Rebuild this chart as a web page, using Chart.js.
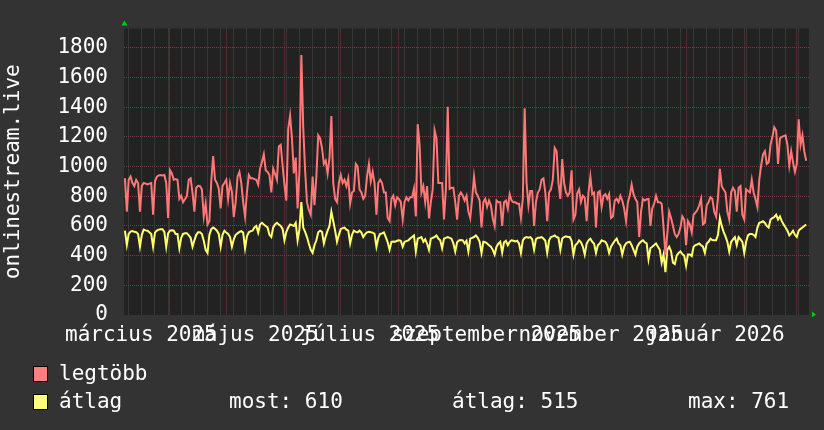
<!DOCTYPE html>
<html><head><meta charset="utf-8">
<script src="https://cdn.jsdelivr.net/npm/chart.js@4"></script>
<style>
html,body{margin:0;padding:0;background:#333333;}
#wrap{position:relative;width:824px;height:430px;overflow:hidden;}
#c{position:absolute;left:0;top:0;}
.lg{position:absolute;font-family:'DejaVu Sans Mono',monospace;font-size:21px;line-height:21px;color:#ffffff;white-space:pre;}
.box{position:absolute;width:13px;height:14px;border:1px solid #000;}
</style></head><body>
<div id="wrap">
<canvas id="c" width="824" height="430"></canvas>
<div class="box" style="left:33px;top:366px;background:#ff7f7f"></div>
<div class="lg" style="left:59px;top:363px">legtöbb</div>
<div class="box" style="left:33px;top:394px;background:#ffff7f"></div>
<div class="lg" style="left:59px;top:391px">átlag</div>
<div class="lg" style="left:229px;top:391px">most: 610</div>
<div class="lg" style="left:452px;top:391px">átlag: 515</div>
<div class="lg" style="left:688px;top:391px">max: 761</div>
</div>
<script>
// Day index 0 = 2025-03-08 ; one value per day
const legtobb = [
921,696,910,932,889,868,910,889,696,870,889,885,880,885,889,675,900,932,940,943,
940,943,889,653,975,953,911,915,911,782,803,760,780,800,911,921,825,696,857,870,
868,846,664,750,610,632,900,1071,911,889,850,718,870,889,911,782,889,830,660,760,
932,964,889,760,664,825,943,921,921,915,911,878,985,1030,1082,975,964,943,825,985,
950,911,1135,1146,1007,878,771,1253,1343,1189,953,1060,718,975,1751,1264,975,760,707,675,
932,739,932,1210,1189,1125,1018,1039,953,1060,1340,889,782,760,889,943,889,911,868,920,
750,825,835,1018,1000,846,825,782,803,932,1018,900,964,889,675,889,911,889,825,825,
653,632,782,803,739,793,782,760,643,760,793,771,793,793,850,664,1285,1146,825,868,
760,868,650,760,846,1243,1189,889,889,889,643,846,1403,850,857,857,760,643,803,825,
803,771,803,696,653,782,932,825,803,771,589,760,782,728,771,739,650,600,771,760,
760,600,760,771,718,814,771,760,760,750,750,653,782,1393,889,739,835,835,600,760,
825,846,911,921,825,632,825,846,911,1125,1103,889,782,1050,889,825,803,825,975,643,
675,820,846,760,803,790,632,825,932,814,825,589,825,835,728,803,814,782,814,653,
664,771,782,760,803,771,718,632,760,803,878,814,782,760,525,696,782,771,780,782,
600,718,750,803,760,760,750,589,407,546,696,653,600,546,525,546,589,664,643,470,
632,610,557,675,690,707,739,782,610,621,739,760,793,782,696,664,793,985,868,846,
825,696,643,825,857,835,696,857,868,675,643,846,835,825,911,825,780,728,911,1007,
1082,1103,1018,1028,1146,1200,1264,1243,1018,1189,1200,1205,1210,1146,1007,1103,1028,964,1018,1318,
1146,1210,1100,1039
];
const atlag = [
568,471,546,562,565,560,558,545,460,540,575,570,568,557,545,460,555,568,575,578,
578,560,460,550,568,570,568,546,546,450,520,546,550,551,536,520,460,503,540,557,
557,546,500,439,418,540,578,589,580,568,546,460,540,568,555,546,525,460,510,540,
550,560,565,555,450,530,557,565,568,590,600,555,610,621,610,600,590,540,525,590,
610,621,610,600,580,503,560,589,610,605,600,621,503,578,761,589,560,525,480,439,
418,470,503,557,568,560,482,530,568,600,696,632,568,493,540,578,585,589,575,568,
482,540,568,560,557,568,555,525,545,557,560,557,555,546,460,520,546,550,557,525,
490,439,493,495,493,500,503,500,460,493,498,503,515,525,536,428,514,520,525,493,
510,480,439,514,520,525,536,515,503,450,514,520,525,520,514,482,428,490,503,505,
503,482,500,428,514,520,525,536,520,493,418,493,490,482,470,460,439,407,460,480,
493,420,490,500,470,493,503,500,496,500,480,418,503,520,525,521,525,510,440,510,
520,521,525,515,500,418,503,525,530,536,525,520,440,515,525,530,525,525,500,407,
470,482,503,490,460,407,480,503,514,493,480,418,470,482,503,498,493,470,418,460,
482,500,514,482,470,407,460,482,490,493,470,439,407,460,482,495,503,490,482,375,
450,460,471,482,460,439,353,407,289,439,460,430,353,343,400,418,428,410,400,332,
407,407,396,460,471,475,482,470,460,418,482,493,514,505,503,503,540,653,600,560,
530,493,428,493,510,525,471,525,510,493,418,493,536,546,546,540,525,589,621,625,
632,620,600,589,643,653,660,675,643,664,632,610,589,568,536,550,568,540,525,568,
580,589,600,610
];
// month starts (day index) for the major grid, Mondays for the minor grid
const monthStarts = [24,54,85,115,146,177,207,238,268,299,330,358];
const firstMonday = 2;
const monthLabels = ['március 2025','május 2025','július 2025','szeptember 2025','november 2025','január 2026'];
const monthLabelPos = [8.5,69.5,130.5,192.5,253.5,314.5];
const yTickStep = 100, yLabelStep = 200, yMax = 1929;
const seriesNames = ['legtöbb','átlag'];

const mondays = [];
for (let d = firstMonday; d < 365; d += 7) mondays.push(d);
const labelMap = {};
monthLabelPos.forEach((p,i)=>{ labelMap[String(p)] = monthLabels[i]; });
const monthSet = new Set(monthStarts), mondaySet = new Set(mondays);
const xTickVals = Array.from(new Set([...monthStarts, ...mondays, ...monthLabelPos])).sort((a,b)=>a-b);

const MAJOR = '#7c3b3b', MINOR = '#4e4e4e';
const FONT = {family:"'DejaVu Sans Mono', monospace", size:21};

const bgPlugin = {
  id:'bg',
  beforeDraw(chart){
    const {ctx, chartArea:a} = chart;
    ctx.save();
    ctx.fillStyle = '#333333'; ctx.fillRect(0,0,chart.width,chart.height);
    ctx.fillStyle = '#222222'; ctx.fillRect(a.left,a.top,a.right-a.left,a.bottom-a.top);
    ctx.restore();
  },
  afterDraw(chart){
    const {ctx, chartArea:a} = chart;
    ctx.save();
    ctx.fillStyle = '#00cc00';
    ctx.beginPath(); ctx.moveTo(a.left+0.5, a.top-8); ctx.lineTo(a.left-2.5, a.top-3); ctx.lineTo(a.left+3.5, a.top-3); ctx.closePath(); ctx.fill();
    ctx.beginPath(); ctx.moveTo(a.right+7, a.bottom-0.5); ctx.lineTo(a.right+3, a.bottom-3.5); ctx.lineTo(a.right+3, a.bottom+2.5); ctx.closePath(); ctx.fill();
    ctx.restore();
  }
};

new Chart(document.getElementById('c'), {
  type:'line',
  data:{
    datasets:[
      {label:seriesNames[0], data:legtobb.map((v,i)=>({x:i,y:v})), borderColor:'#ff7777', borderWidth:2, pointRadius:0, tension:0, fill:false},
      {label:seriesNames[1], data:atlag.map((v,i)=>({x:i,y:v})), borderColor:'#ffff70', borderWidth:2, pointRadius:0, tension:0, fill:false}
    ]
  },
  options:{
    responsive:false, animation:false, events:[],
    layout:{padding:{left:0, right:15, top:15, bottom:0}},
    plugins:{legend:{display:false}, tooltip:{enabled:false}},
    scales:{
      x:{
        type:'linear', min:-0.5, max:364.5,
        afterBuildTicks(s){ s.ticks = xTickVals.map(v=>({value:v})); },
        afterFit(s){ s.height = 115; },
        grid:{
          drawTicks:false,
          color(c){ const v = c.tick && c.tick.value; return monthSet.has(v) ? MAJOR : (mondaySet.has(v) ? MINOR : 'rgba(0,0,0,0)'); },
          lineWidth:1
        },
        border:{display:false, dash:[1,1]},
        ticks:{
          autoSkip:false, maxRotation:0, minRotation:0, padding:8, color:'#ffffff', font:FONT,
          callback(v){ return labelMap[String(v)] || ''; }
        }
      },
      y:{
        type:'linear', min:0, max:yMax,
        afterBuildTicks(s){ const t=[]; for(let v=0; v<=yMax; v+=yTickStep) t.push({value:v}); s.ticks=t; },
        afterFit(s){ s.width = 124; },
        grid:{
          drawTicks:false,
          color(c){ const v = c.tick && c.tick.value; if (v===0) return 'rgba(0,0,0,0)'; return v % yLabelStep === 0 ? MAJOR : MINOR; },
          lineWidth:1
        },
        border:{display:false, dash:[1,1]},
        ticks:{ padding:16, color:'#ffffff', font:FONT, callback(v){ return v % yLabelStep === 0 ? String(v) : ''; } },
        title:{ display:true, text:'onlinestream.live', color:'#ffffff', font:{...FONT, lineHeight:1.2}, padding:{top:1,bottom:0} }
      }
    }
  },
  plugins:[bgPlugin]
});
</script>
</body></html>
